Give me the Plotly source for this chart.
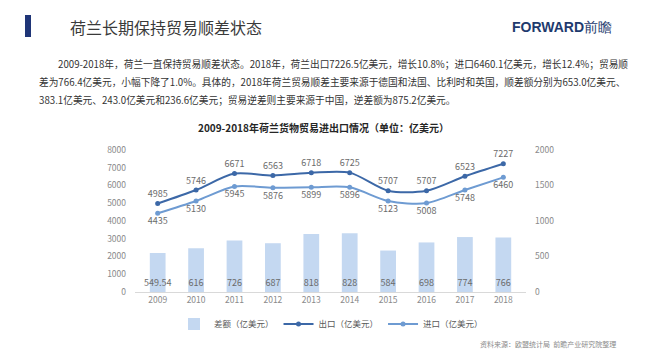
import plotly.graph_objects as go

years = ["2009", "2010", "2011", "2012", "2013", "2014", "2015", "2016", "2017", "2018"]
exports = [4985, 5746, 6671, 6563, 6718, 6725, 5707, 5707, 6523, 7227]
imports = [4435, 5130, 5945, 5876, 5899, 5896, 5123, 5008, 5748, 6460]
surplus = [549.54, 616, 726, 687, 818, 828, 584, 698, 774, 766]
surplus_labels = ["549.54", "616", "726", "687", "818", "828", "584", "698", "774", "766"]

FONT = "Noto Sans CJK SC"
W, H = 650, 358
L, R, T, B = 135, 124, 150, 66

def px(x):
    return (x - L) / (W - L - R)

def py(y):
    return (H - B - y) / (H - T - B)

fig = go.Figure()

fig.add_trace(go.Bar(
    x=years, y=surplus, yaxis="y2", name="差额（亿美元）",
    marker=dict(color="#c4d8f1", line=dict(width=0)),
    width=0.41,
    text=surplus_labels, textposition="inside", insidetextanchor="start",
    constraintext="none", textangle=0, cliponaxis=False,
    textfont=dict(family=FONT, size=9, color="#6b6b6b"),
))

fig.add_trace(go.Scatter(
    x=years, y=exports, name="出口（亿美元）", mode="lines+markers+text",
    line=dict(color="#3c68a7", width=2, shape="spline", smoothing=0.8),
    marker=dict(size=5, color="#3c68a7"),
    text=[str(v) for v in exports], textposition="top center",
    textfont=dict(family=FONT, size=9, color="#6b6b6b"), cliponaxis=False,
))

fig.add_trace(go.Scatter(
    x=years, y=imports, name="进口（亿美元）", mode="lines+markers+text",
    line=dict(color="#6e9bd2", width=2, shape="spline", smoothing=0.8),
    marker=dict(size=5, color="#6e9bd2"),
    text=[str(v) for v in imports], textposition="bottom center",
    textfont=dict(family=FONT, size=9, color="#6b6b6b"), cliponaxis=False,
))

annotations = [
    dict(text="荷兰长期保持贸易顺差状态", x=px(68), y=py(27), xanchor="left", yanchor="middle",
         font=dict(family=FONT, size=16, color="#3a3a3a")),
    dict(text="<b>FORWARD</b>前瞻", x=px(510), y=py(27), xanchor="left", yanchor="middle",
         font=dict(family="Liberation Sans", size=14, color="#1e3a6e")),
    dict(text="2009-2018年，荷兰一直保持贸易顺差状态。2018年，荷兰出口7226.5亿美元，增长10.8%；进口6460.1亿美元，增长12.4%；贸易顺",
         x=px(56), y=py(64), xanchor="left", yanchor="middle",
         font=dict(family=FONT, size=9.7, color="#333333")),
    dict(text="差为766.4亿美元，小幅下降了1.0%。具体的，2018年荷兰贸易顺差主要来源于德国和法国、比利时和英国，顺差额分别为653.0亿美元、",
         x=px(37), y=py(82), xanchor="left", yanchor="middle",
         font=dict(family=FONT, size=9.7, color="#333333")),
    dict(text="383.1亿美元、243.0亿美元和236.6亿美元；贸易逆差则主要来源于中国，逆差额为875.2亿美元。",
         x=px(37), y=py(100), xanchor="left", yanchor="middle",
         font=dict(family=FONT, size=9.7, color="#333333")),
    dict(text="<b>2009-2018年荷兰货物贸易进出口情况（单位：亿美元）</b>", x=px(323), y=py(127),
         xanchor="center", yanchor="middle",
         font=dict(family=FONT, size=10, color="#262626")),
    dict(text="资料来源：欧盟统计局  前瞻产业研究院整理", x=px(618), y=py(344),
         xanchor="right", yanchor="middle",
         font=dict(family=FONT, size=7, color="#8a8a8a")),
]
for a in annotations:
    a.update(xref="paper", yref="paper", showarrow=False)

fig.update_layout(
    width=W, height=H,
    margin=dict(l=L, r=R, t=T, b=B),
    paper_bgcolor="white", plot_bgcolor="white",
    font=dict(family=FONT, size=9, color="#8a8a8a"),
    xaxis=dict(type="category", showgrid=False, showline=True, linecolor="#d9d9d9", linewidth=1,
               ticks="", tickfont=dict(size=8.5, color="#8a8a8a"), zeroline=False),
    yaxis=dict(range=[0, 8000], dtick=1000, showgrid=False, zeroline=False, showline=False,
               tickfont=dict(size=8.5, color="#8a8a8a"), ticklabelstandoff=8),
    yaxis2=dict(range=[0, 2000], dtick=500, overlaying="y", side="right", showgrid=False,
                zeroline=False, showline=False, tickfont=dict(size=8.5, color="#8a8a8a"),
                ticklabelstandoff=8),
    legend=dict(orientation="h", x=px(331), y=py(324), xanchor="center", yanchor="middle",
                font=dict(family=FONT, size=8.5, color="#595959"), traceorder="normal",
                itemwidth=30, bgcolor="rgba(0,0,0,0)"),
    showlegend=True,
    annotations=annotations,
    shapes=[dict(type="rect", xref="paper", yref="paper", x0=px(25), x1=px(31), y0=py(37), y1=py(15),
                 fillcolor="#1f3577", line=dict(width=0))],
)

fig.write_html("out.html", config={"displayModeBar": False},
               post_script="document.body.style.margin='0px';")
